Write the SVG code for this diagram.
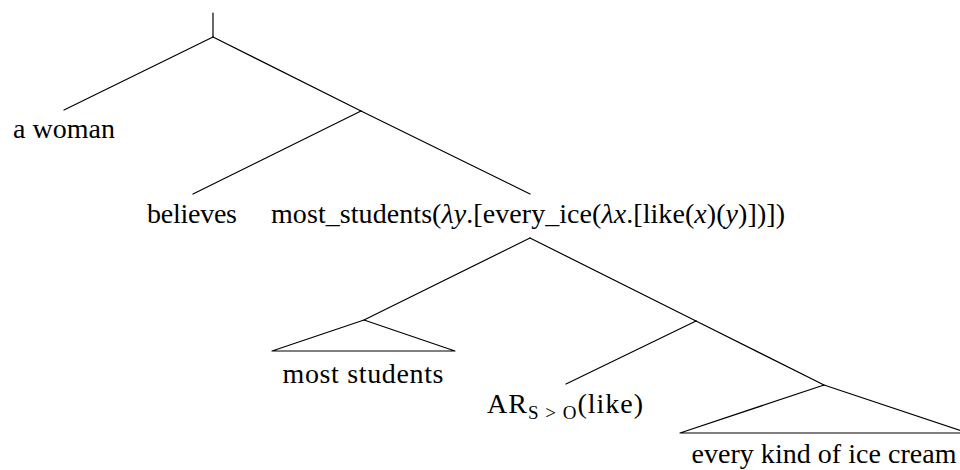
<svg xmlns="http://www.w3.org/2000/svg" width="960" height="470" viewBox="0 0 960 470">
<style>
.t{font-family:"Liberation Serif","Times New Roman",serif;font-size:28px;fill:#000;text-anchor:middle}
.i{font-style:italic}
.e{stroke:#000;stroke-width:1.2;fill:none;stroke-linecap:round;stroke-linejoin:round}
</style>
<rect width="960" height="470" fill="#fff"/>
<g id="connectors" class="e">
<line x1="213" y1="13" x2="213" y2="37"/>
<line x1="213" y1="37" x2="64" y2="110"/>
<line x1="213" y1="37" x2="361" y2="111"/>
<line x1="361" y1="111" x2="193" y2="194"/>
<line x1="361" y1="111" x2="530" y2="194"/>
<line x1="530" y1="238" x2="364" y2="320"/>
<line x1="530" y1="238" x2="696" y2="321"/>
<line x1="696" y1="321" x2="566" y2="384"/>
<line x1="696" y1="321" x2="824" y2="385"/>
</g>
<g id="n-awoman"><text class="t" x="64" y="138" textLength="102" lengthAdjust="spacing">a woman</text></g>
<g id="n-believes"><text class="t" x="192" y="223" textLength="90" lengthAdjust="spacing">believes</text></g>
<g id="n-vp"><text class="t" x="528" y="223" textLength="514" lengthAdjust="spacing">most_students(<tspan class="i">λy</tspan>.[every_ice(<tspan class="i">λx</tspan>.[like(<tspan class="i">x</tspan>)(<tspan class="i">y</tspan>)])])</text></g>
<g id="n-moststudents">
<polygon class="e" points="364,320 272,351 455,351"/>
<text class="t" x="363" y="383" textLength="161" lengthAdjust="spacing">most students</text>
</g>
<g id="n-ar"><text class="t" x="565" y="413" textLength="156" lengthAdjust="spacing">AR<tspan font-size="19" dy="6">S &gt; O</tspan><tspan dy="-6">(like)</tspan></text></g>
<g id="n-icecream">
<polygon class="e" points="824,385 680,433 968,433"/>
<text class="t" x="824" y="463" textLength="265" lengthAdjust="spacing">every kind of ice cream</text>
</g>
</svg>
